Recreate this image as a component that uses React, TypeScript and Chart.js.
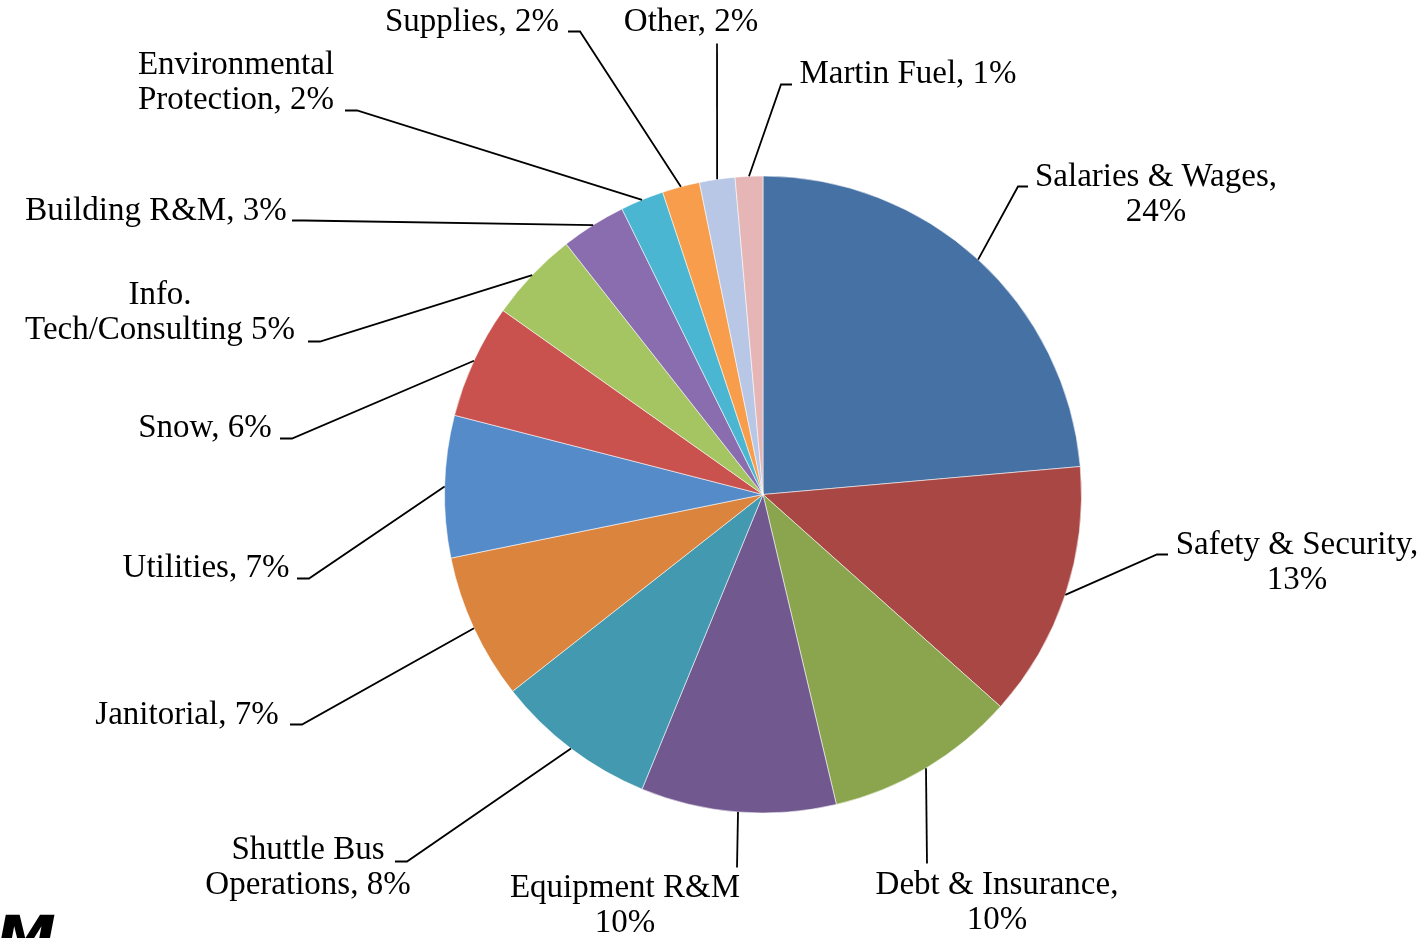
import React, { useEffect, useRef } from "react";
import { Chart, registerables } from "chart.js";

Chart.register(...registerables);

const categories = [
  "Salaries & Wages",
  "Safety & Security",
  "Debt & Insurance",
  "Equipment R&M",
  "Shuttle Bus Operations",
  "Janitorial",
  "Utilities",
  "Snow",
  "Info. Tech/Consulting",
  "Building R&M",
  "Environmental Protection",
  "Supplies",
  "Other",
  "Martin Fuel",
];

const shares = [23.6, 13.0, 9.7, 9.9, 8.2, 7.4, 7.2, 5.8, 4.6, 3.3, 2.2, 1.9, 1.8, 1.4];

const labelLines = [
  ["Salaries & Wages,", "24%"],
  ["Safety & Security,", "13%"],
  ["Debt & Insurance,", "10%"],
  ["Equipment R&M", "10%"],
  ["Shuttle Bus", "Operations, 8%"],
  ["Janitorial, 7%"],
  ["Utilities, 7%"],
  ["Snow, 6%"],
  ["Info.", "Tech/Consulting 5%"],
  ["Building R&M, 3%"],
  ["Environmental", "Protection, 2%"],
  ["Supplies, 2%"],
  ["Other, 2%"],
  ["Martin Fuel, 1%"],
];

const sliceColors = [
  "#4671A5",
  "#A94744",
  "#8AA54E",
  "#71588F",
  "#4299B0",
  "#DB843D",
  "#568BCA",
  "#C9514E",
  "#A5C462",
  "#8A6DAE",
  "#4BB6D2",
  "#F79D4B",
  "#B8C7E6",
  "#E6B6B6",
];

// Label layout, offsets in px from the pie centre:
// [textCenterX, firstLineY, elbowX, elbowY, stubEndX, stubEndY]
const labelLayout = [
  [393, -317, 255, -308, 265, -308],
  [534, 51, 394, 60, 405, 60],
  [234, 391, 164, 369, 164, 369],
  [-138, 394, -26, 373, -26, 373],
  [-455, 356, -356, 367, -368, 367],
  [-576, 221, -461, 230, -473, 230],
  [-557, 74, -454, 84, -466, 84],
  [-558, -66, -471, -56, -483, -56],
  [-603, -199, -443, -153, -455, -153],
  [-607, -283, -459, -274, -471, -274],
  [-527, -429, -406, -384, -418, -384],
  [-291, -472, -183, -463, -195, -463],
  [-72, -472, -46, -451, -46, -451],
  [145, -420, 18, -410, 29, -410],
];

const labelFont = '33px "Liberation Serif", "Times New Roman", serif';
const lineHeight = 35;

const leaderPlugin = {
  id: "leaderLabels",
  afterDatasetsDraw(chart: any) {
    const ctx = chart.ctx as CanvasRenderingContext2D;
    const meta = chart.getDatasetMeta(0);
    ctx.save();
    ctx.strokeStyle = "#000000";
    ctx.lineWidth = 1.8;
    ctx.fillStyle = "#000000";
    ctx.font = labelFont;
    ctx.textAlign = "center";
    ctx.textBaseline = "middle";
    meta.data.forEach((arc: any, i: number) => {
      const { x, y, startAngle, endAngle, outerRadius } = arc.getProps(
        ["x", "y", "startAngle", "endAngle", "outerRadius"],
        true
      );
      const mid = (startAngle + endAngle) / 2;
      const px = x + Math.cos(mid) * outerRadius;
      const py = y + Math.sin(mid) * outerRadius;
      const L = labelLayout[i];
      ctx.beginPath();
      ctx.moveTo(px, py);
      ctx.lineTo(x + L[2], y + L[3]);
      ctx.lineTo(x + L[4], y + L[5]);
      ctx.stroke();
      labelLines[i].forEach((t, k) => {
        ctx.fillText(t, x + L[0], y + L[1] + k * lineHeight);
      });
    });
    ctx.restore();
  },
};

export default function App() {
  const ref = useRef<HTMLCanvasElement | null>(null);
  useEffect(() => {
    document.body.style.margin = "0";
    if (!ref.current) return;
    const chart = new Chart(ref.current, {
      type: "pie",
      data: {
        labels: categories,
        datasets: [
          {
            data: shares,
            backgroundColor: sliceColors,
            borderColor: "rgba(255,255,255,0.55)",
            borderWidth: 1,
          },
        ],
      },
      options: {
        responsive: false,
        animation: false,
        devicePixelRatio: 1,
        layout: { padding: { left: 444, right: 346, top: 175, bottom: 124 } },
        plugins: {
          legend: { display: false },
          tooltip: { enabled: false },
        },
      },
      plugins: [leaderPlugin],
    });
    return () => chart.destroy();
  }, []);
  return (
    <div style={{ position: "relative", width: 1428, height: 938, overflow: "hidden", background: "#fff" }}>
      <canvas ref={ref} width={1428} height={938} style={{ display: "block" }} />
      <div
        style={{
          position: "absolute",
          left: -4,
          top: 908,
          fontFamily: '"DejaVu Sans", sans-serif',
          fontWeight: 900,
          fontStyle: "italic",
          fontSize: 60,
          lineHeight: "60px",
          color: "#000",
        }}
      >
        M
      </div>
    </div>
  );
}
